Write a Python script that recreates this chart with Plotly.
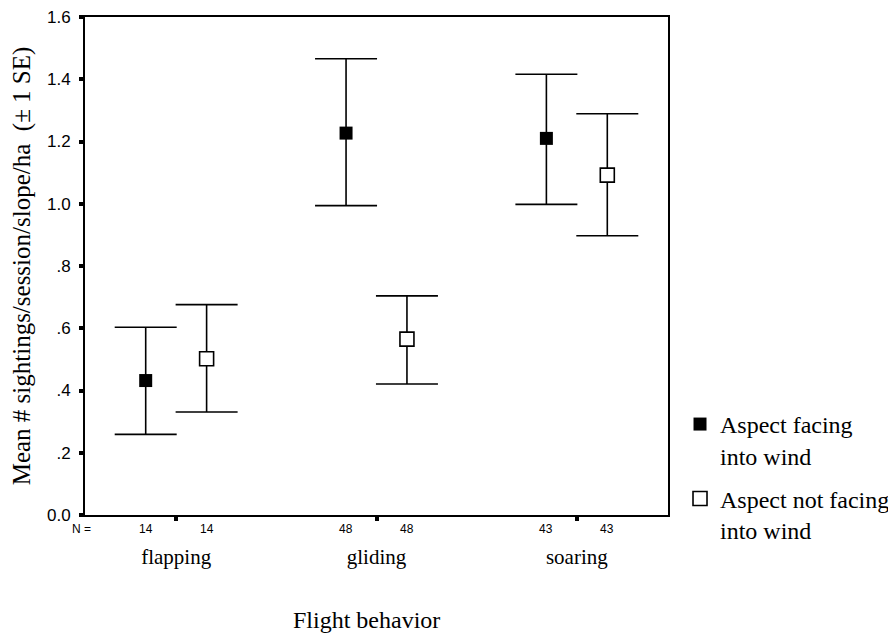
import plotly.graph_objects as go

categories = ["flapping", "gliding", "soaring"]
category_pos = [0, 1, 2]
facing_mean = [0.432, 1.227, 1.210]
facing_upper = [0.603, 1.466, 1.416]
facing_lower = [0.259, 0.994, 0.998]
notfacing_mean = [0.502, 0.565, 1.092]
notfacing_upper = [0.676, 0.704, 1.289]
notfacing_lower = [0.331, 0.421, 0.897]
n_facing = [14, 48, 43]
n_notfacing = [14, 48, 43]
ytick_vals = [0, 0.2, 0.4, 0.6, 0.8, 1.0, 1.2, 1.4, 1.6]
ytick_text = ["0.0", ".2", ".4", ".6", ".8", "1.0", "1.2", "1.4", "1.6"]

OFF = 0.152
x_f = [p - OFF for p in category_pos]
x_n = [p + OFF for p in category_pos]

serif = "Liberation Serif"
sans = "Liberation Sans"

fig = go.Figure()
fig.add_trace(go.Scatter(
    x=x_f, y=facing_mean, mode="markers",
    name="Aspect facing<br>into wind", legendgroup="a",
    marker=dict(symbol="square", size=13, color="black", line=dict(width=0)),
    error_y=dict(type="data", symmetric=False,
                 array=[u - m for u, m in zip(facing_upper, facing_mean)],
                 arrayminus=[m - l for m, l in zip(facing_mean, facing_lower)],
                 color="black", thickness=1.6, width=31),
))
fig.add_trace(go.Scatter(
    x=x_n, y=notfacing_mean, mode="markers",
    name="Aspect not facing<br>into wind", legendgroup="b",
    marker=dict(symbol="square", size=14, color="white", line=dict(width=1.6, color="black")),
    error_y=dict(type="data", symmetric=False,
                 array=[u - m for u, m in zip(notfacing_upper, notfacing_mean)],
                 arrayminus=[m - l for m, l in zip(notfacing_mean, notfacing_lower)],
                 color="black", thickness=1.6, width=31),
))

annotations = []
for xs, ns in ((x_f, n_facing), (x_n, n_notfacing)):
    for x, n in zip(xs, ns):
        annotations.append(dict(x=x, xref="x", y=0, yref="paper", yshift=-14,
                                text=str(n), showarrow=False, yanchor="middle",
                                font=dict(family=sans, size=12, color="black")))
annotations.append(dict(x=0, xref="paper", xshift=8, xanchor="right",
                        y=0, yref="paper", yshift=-14,
                        text="N =", showarrow=False, yanchor="middle",
                        font=dict(family=sans, size=12, color="black")))
annotations.append(dict(x=0.482, xref="paper", y=0, yref="paper", yshift=-105,
                        text="Flight behavior", showarrow=False, yanchor="middle",
                        font=dict(family=serif, size=24, color="black")))

fig.update_layout(
    width=888, height=626,
    margin=dict(l=77, r=228, t=9, b=119, autoexpand=False),
    paper_bgcolor="white", plot_bgcolor="white",
    showlegend=True,
    legend=dict(x=1.0206, xanchor="left", y=0.227, yanchor="top",
                valign="top", traceorder="grouped", tracegroupgap=9,
                font=dict(family=serif, size=24, color="black"),
                bgcolor="rgba(0,0,0,0)", borderwidth=0),
    annotations=annotations,
)
fig.update_xaxes(
    range=[-0.455, 2.455], tickvals=category_pos, ticktext=categories,
    showgrid=False, zeroline=False, showline=True, linecolor="black", linewidth=2,
    mirror=True, ticks="outside", ticklen=4, tickwidth=4, tickcolor="black",
    ticklabelstandoff=18, automargin=False, ticklabeloverflow="allow",
    tickfont=dict(family=serif, size=21, color="black"),
)
fig.update_yaxes(
    range=[0, 1.6], tickvals=ytick_vals, ticktext=ytick_text,
    showgrid=False, zeroline=False, showline=True, linecolor="black", linewidth=2,
    mirror=True, ticks="outside", ticklen=4, tickwidth=4, tickcolor="black",
    ticklabelstandoff=5, ticklabeloverflow="allow",
    tickfont=dict(family=sans, size=17, color="black"), automargin=False,
    title=dict(text="Mean # sightings/session/slope/ha  (\u00b1 1 SE)",
               font=dict(family=serif, size=25, color="black"), standoff=12),
)

fig.write_html("out.html")
